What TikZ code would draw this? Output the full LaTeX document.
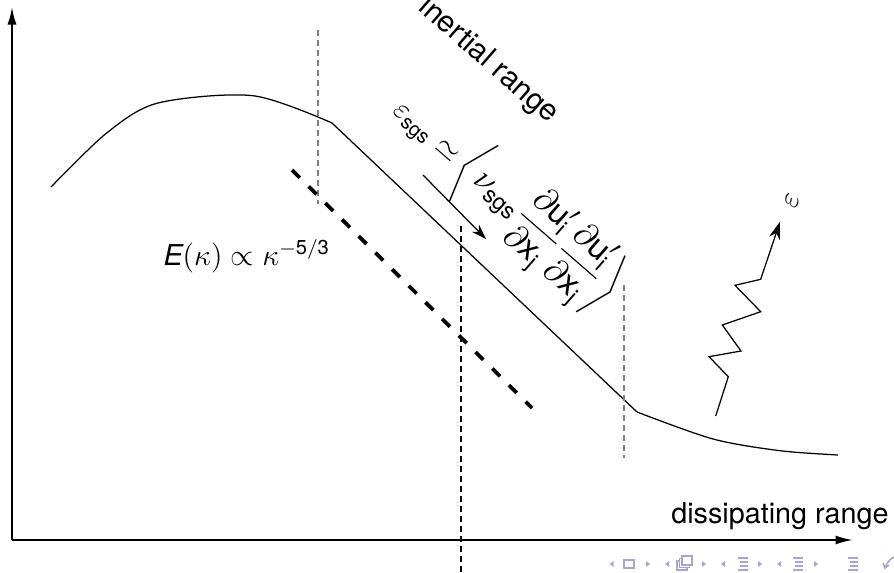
\documentclass[tikz,border=0pt]{standalone}
\usepackage{fontspec}
\usepackage{graphicx}
\setmainfont{TeX Gyre Heros}
\setsansfont{TeX Gyre Heros}
\usetikzlibrary{arrows.meta}
\definecolor{navc}{RGB}{165,165,215}
\begin{document}
\begin{tikzpicture}[x=0.4pt,y=-0.4pt,
  font=\fontsize{11.5}{14}\selectfont,
  axis/.style={line width=0.8pt,-{Latex[length=7pt,width=3.6pt]}},
  curve/.style={line width=0.5pt},
  guide/.style={gray,line width=0.5pt,dash pattern=on 2.4pt off 1.6pt},
  slope/.style={line width=1.5pt,dash pattern=on 4.4pt off 5pt},
  cutline/.style={line width=1.1pt,dash pattern=on 2.4pt off 1.6pt},
  thinarrow/.style={line width=0.5pt,-{Stealth[length=6pt,width=4pt]}},
  navtri/.style={fill=navc,draw=none},
  navline/.style={draw=navc,line width=0.6pt}]
\useasboundingbox (0,0) rectangle (894,573);

% axes
\coordinate (O) at (12,540);
\coordinate (ytop) at (12,7);
\coordinate (xend) at (853,540);
\draw[axis] (O) -- (ytop);
\draw[axis] (O) -- (xend);
\node[anchor=base east,inner sep=0] (diss) at (889,523) {dissipating range};

% spectrum curve
\draw[curve] plot[smooth,tension=0.5] coordinates {(51,187) (106.7,133) (158,103) (253,95.7) (332,123)};
\coordinate (k1) at (332,123);
\coordinate (k2) at (637,412);
\draw[curve] (k1) -- (k2);
\draw[curve] plot[smooth,tension=0.5] coordinates {(637,412) (713,439) (780,450.7) (838,455)};

% guide lines
\coordinate (g1a) at (318,30); \coordinate (g1b) at (318,204);
\coordinate (g2a) at (624,285); \coordinate (g2b) at (624,458);
\draw[guide] (g1a) -- (g1b);
\draw[guide] (g2a) -- (g2b);

% -5/3 slope
\coordinate (s1) at (292,170); \coordinate (s2) at (532,408);
\draw[slope] (s1) -- (s2);
\node[anchor=base west,inner sep=0] (Elaw) at (163,265) {$\mathit{E}(\kappa)\propto\kappa^{-\mathsf{5/3}}$};

% cutoff
\coordinate (c1) at (461,226); \coordinate (c2) at (461,573);
\draw[cutline] (c1) -- (c2);

% labels
\node[rotate=-41,inner sep=0,font=\fontsize{12}{14}\selectfont] (inert) at (488,61) {inertial range};
\node[rotate=-41,inner sep=0] (epsgs) at (505,201)
  {$\varepsilon_{\mathsf{sgs}}\simeq\left\langle\scalebox{1.15}{$\nu_{\mathsf{sgs}}\displaystyle\frac{\partial \mathsf{u}'_{\mathsf{i}}}{\partial \mathsf{x}_{\mathsf{j}}}\frac{\partial \mathsf{u}'_{\mathsf{i}}}{\partial \mathsf{x}_{\mathsf{j}}}$}\right\rangle$};
\coordinate (a1) at (423,175); \coordinate (a2) at (486,239);
\draw[thinarrow] (a1) -- (a2);

% dissipation zigzag
\coordinate (z0) at (715.7,416);
\coordinate (z1) at (728.3,376.7);
\coordinate (z2) at (709,356.7);
\coordinate (z3) at (741,351);
\coordinate (z4) at (722.3,325);
\coordinate (z5) at (760.7,311.7);
\coordinate (z6) at (735,285.3);
\coordinate (z7) at (760.7,279.3);
\coordinate (z8) at (780,221.7);
\draw[line width=0.5pt,-{Stealth[length=7pt,width=4.5pt]}] (z0) -- (z1) -- (z2) -- (z3) -- (z4) -- (z5) -- (z6) -- (z7) -- (z8);
\node[rotate=70,inner sep=0] (epsd) at (792,201) {$\varepsilon$};

% navigation symbols
\foreach \x in {611.7,667,723,779} {\fill[navtri] (\x+2,561) -- (\x-2,564) -- (\x+2,567) -- cycle;}
\foreach \x in {648,704,760,816} {\fill[navtri] (\x-2,561) -- (\x+2,564) -- (\x-2,567) -- cycle;}
\draw[navline] (624,560) rectangle (634,568);
\draw[navline,fill=white] (677,561) rectangle (687,570);
\draw[navline,fill=white] (679.5,558.5) rectangle (689.5,567.5);
\draw[navline,fill=white] (682,556) rectangle (692,565);
\foreach \x in {743,798,853} {
  \draw[navline] (\x-5,558) -- (\x+5,558);
  \draw[navline] (\x-3,562) -- (\x+5,562);
  \draw[navline] (\x-3,566) -- (\x+5,566);
  \draw[navline] (\x-5,570) -- (\x+5,570);
}
\draw[navline] (885,568) .. controls (888,560) and (892,558) .. (894,557);
\draw[navline] (883,563) -- (885,568) -- (889,565);
\end{tikzpicture}
\end{document}
